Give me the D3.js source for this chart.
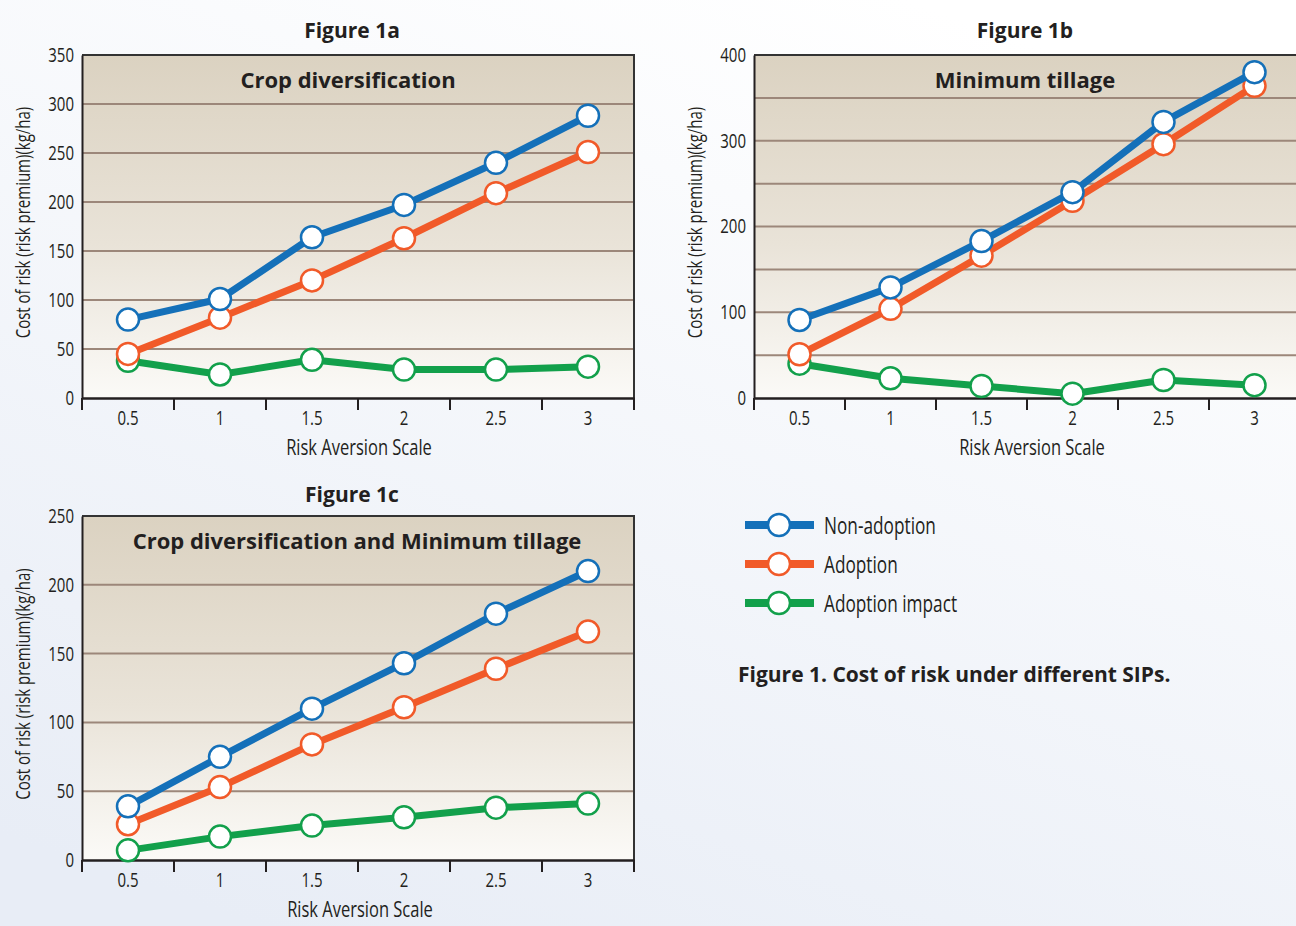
<!DOCTYPE html>
<html>
<head>
<meta charset="utf-8">
<script src="https://cdn.jsdelivr.net/npm/d3@7"></script>
<style>
  body { margin: 0; overflow: hidden; }
  .narrow { font-family: "Open Sans", "Noto Sans", sans-serif; fill: #231f20; }
  .bold { font-family: "Open Sans", "Noto Sans", sans-serif; font-weight: 700; fill: #231f20; }
</style>
</head>
<body>
<div id="container"></div>
<script>
let w = 1296;
let h = 926;
let squeeze = 0.75; // fake a condensed face

// data
let riskScale = ["0.5", "1", "1.5", "2", "2.5", "3"];
let seriesNames = ["Non-adoption", "Adoption", "Adoption impact"];
let seriesColors = ["#1470b9", "#f15a29", "#12a04b"];

let cropDivNonAdoption = [80, 101, 164, 197, 240, 288];
let cropDivAdoption = [45, 82, 120, 163, 209, 251];
let cropDivImpact = [38, 24, 39, 29, 29, 32];

let tillageNonAdoption = [91, 129, 183, 240, 322, 380];
let tillageAdoption = [51, 104, 166, 230, 296, 364];
let tillageImpact = [40, 23, 14, 5, 21, 15];

let bothNonAdoption = [39, 75, 110, 143, 179, 210];
let bothAdoption = [26, 53, 84, 111, 139, 166];
let bothImpact = [7, 17, 25, 31, 38, 41];

let ticks1a = [0, 50, 100, 150, 200, 250, 300, 350];
let ticks1b = [0, 100, 200, 300, 400];
let grid1b = [50, 100, 150, 200, 250, 300, 350];
let ticks1c = [0, 50, 100, 150, 200, 250];

let panels = [
  { fig: "Figure 1a", title: "Crop diversification", max: 350, ticks: ticks1a, grid: ticks1a.slice(1, -1),
    series: [cropDivNonAdoption, cropDivAdoption, cropDivImpact],
    x0: 82, x1: 634, y0: 55, y1: 398, figX: 352, figY: 38, titleX: 348, labX: 359 },
  { fig: "Figure 1b", title: "Minimum tillage", max: 400, ticks: ticks1b, grid: grid1b,
    series: [tillageNonAdoption, tillageAdoption, tillageImpact],
    x0: 754, x1: 1300, y0: 55, y1: 398, figX: 1025, figY: 38, titleX: 1025, labX: 1032 },
  { fig: "Figure 1c", title: "Crop diversification and Minimum tillage", max: 250, ticks: ticks1c, grid: ticks1c.slice(1, -1),
    series: [bothNonAdoption, bothAdoption, bothImpact],
    x0: 82, x1: 634, y0: 516, y1: 860, figX: 352, figY: 502, titleX: 357, labX: 360 }
];

let viz = d3.select("#container").append("svg")
    .attr("width", w)
    .attr("height", h);

let defs = viz.append("defs");
let pageGrad = defs.append("linearGradient").attr("id", "pagebg")
    .attr("x1", 0.7).attr("y1", 0).attr("x2", 0.2).attr("y2", 1);
pageGrad.append("stop").attr("offset", 0).attr("stop-color", "#ffffff");
pageGrad.append("stop").attr("offset", 1).attr("stop-color", "#e8edf6");

let plotGrad = defs.append("linearGradient").attr("id", "plotbg")
    .attr("x1", 0).attr("y1", 0).attr("x2", 0).attr("y2", 1);
plotGrad.append("stop").attr("offset", 0).attr("stop-color", "#dbd2c1");
plotGrad.append("stop").attr("offset", 0.55).attr("stop-color", "#e9e3d8");
plotGrad.append("stop").attr("offset", 1).attr("stop-color", "#fbfaf7");

viz.append("rect").attr("width", w).attr("height", h).attr("fill", "url(#pagebg)");

// text squeezed horizontally around its anchor point
function narrowText(parent, x, y, size, txt, anchor, rotate){
  let g = parent.append("g")
    .attr("transform", "translate(" + x + "," + y + ")" + (rotate ? " rotate(" + rotate + ")" : ""));
  return g.append("text").attr("class", "narrow")
    .attr("transform", "scale(" + squeeze + ",1)")
    .attr("text-anchor", anchor || "start")
    .style("font-size", size + "px")
    .text(txt);
}

panels.forEach(function(p){
  let g = viz.append("g").attr("class", "panel");

  let xScale = d3.scaleBand().domain(riskScale).range([p.x0, p.x1]);
  let yScale = d3.scaleLinear().domain([0, p.max]).range([p.y1, p.y0]);

  g.append("rect")
    .attr("x", p.x0).attr("y", p.y0)
    .attr("width", p.x1 - p.x0).attr("height", p.y1 - p.y0)
    .attr("fill", "url(#plotbg)");

  // grid lines
  g.selectAll(".grid").data(p.grid).enter().append("line")
    .attr("x1", p.x0).attr("x2", p.x1)
    .attr("y1", d => yScale(d)).attr("y2", d => yScale(d))
    .attr("stroke", "#9c877a")
    .attr("stroke-width", 2);

  // frame top + right
  g.append("path")
    .attr("d", "M" + p.x0 + "," + p.y0 + "H" + p.x1 + "V" + p.y1)
    .attr("fill", "none")
    .attr("stroke", "#333")
    .attr("stroke-width", 2);

  // y axis
  let yAxis = d3.axisLeft(yScale).tickValues(p.ticks).tickSize(0).tickPadding(8);
  let yAxisGroup = g.append("g")
    .attr("transform", "translate(" + p.x0 + ",0)")
    .call(yAxis);
  yAxisGroup.attr("font-family", null).attr("font-size", null);
  yAxisGroup.select("path").attr("stroke", "#231f20").attr("stroke-width", 2);
  yAxisGroup.selectAll("text")
    .attr("class", "narrow").style("font-size", "20px")
    .attr("x", -8 / squeeze)
    .attr("transform", "scale(" + squeeze + ",1)");

  // x axis: ticks sit on band edges
  let xAxis = d3.axisBottom(xScale).tickSize(0).tickPadding(13);
  let xAxisGroup = g.append("g")
    .attr("transform", "translate(0," + p.y1 + ")")
    .call(xAxis);
  xAxisGroup.attr("font-family", null).attr("font-size", null);
  xAxisGroup.select("path").attr("stroke", "#231f20").attr("stroke-width", 2.5);
  xAxisGroup.selectAll("text")
    .attr("class", "narrow").style("font-size", "20px")
    .attr("transform", "scale(" + squeeze + ",1)");
  let edges = riskScale.map(d => xScale(d)).concat([p.x1]);
  g.selectAll(".xtick").data(edges).enter().append("line")
    .attr("x1", d => d).attr("x2", d => d)
    .attr("y1", p.y1).attr("y2", p.y1 + 12)
    .attr("stroke", "#231f20").attr("stroke-width", 2);

  // labels
  narrowText(g, p.labX, p.y1 + 57, 22, "Risk Aversion Scale", "middle");
  narrowText(g, p.x0 - 52, (p.y0 + p.y1) / 2 - 4, 20, "Cost of risk (risk premium)(kg/ha)", "middle", -90);

  g.append("text").attr("class", "bold")
    .attr("x", p.figX).attr("y", p.figY)
    .attr("text-anchor", "middle").style("font-size", "21px")
    .text(p.fig);

  g.append("text").attr("class", "bold")
    .attr("x", p.titleX).attr("y", p.y0 + 33)
    .attr("text-anchor", "middle").style("font-size", "22px")
    .text(p.title);

  // series, drawn impact first so non-adoption sits on top
  let line = d3.line().x((d, i) => xScale(riskScale[i]) + xScale.bandwidth() / 2).y(d => yScale(d));
  [2, 1, 0].forEach(function(s){
    let vals = p.series[s];
    g.append("path").datum(vals)
      .attr("d", line)
      .attr("fill", "none")
      .attr("stroke", seriesColors[s])
      .attr("stroke-width", 7)
      .attr("stroke-linejoin", "round");
    g.selectAll(".pt" + s).data(vals).enter().append("circle")
      .attr("cx", (d, i) => xScale(riskScale[i]) + xScale.bandwidth() / 2)
      .attr("cy", d => yScale(d))
      .attr("r", 11)
      .attr("fill", "#fff")
      .attr("stroke", seriesColors[s])
      .attr("stroke-width", 2.5);
  });
});

// legend
let legend = viz.append("g").attr("transform", "translate(745,525)");
seriesNames.forEach(function(name, i){
  let item = legend.append("g").attr("transform", "translate(0," + i * 39 + ")");
  item.append("line")
    .attr("x1", 0).attr("x2", 69).attr("y1", 0).attr("y2", 0)
    .attr("stroke", seriesColors[i]).attr("stroke-width", 8);
  item.append("circle")
    .attr("cx", 34).attr("cy", 0).attr("r", 11)
    .attr("fill", "#fff")
    .attr("stroke", seriesColors[i]).attr("stroke-width", 2.5);
  narrowText(item, 79, 9, 23, name, "start");
});

viz.append("text").attr("class", "bold")
  .attr("x", 738).attr("y", 682).style("font-size", "21px")
  .text("Figure 1. Cost of risk under different SIPs.");
</script>
</body>
</html>
